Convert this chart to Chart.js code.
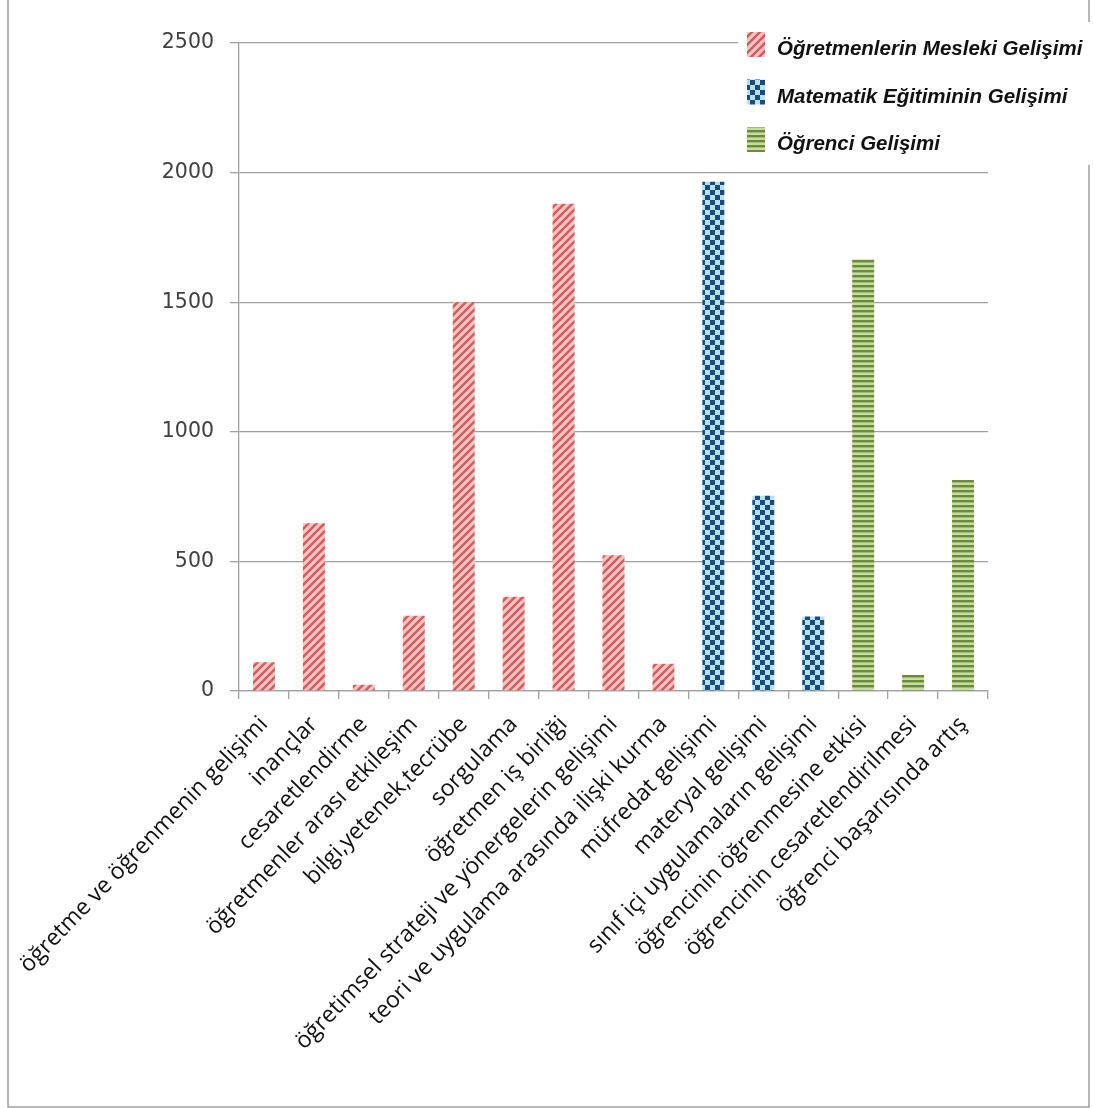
<!DOCTYPE html>
<html><head><meta charset="utf-8">
<script src="https://cdn.jsdelivr.net/npm/chart.js@4.4.0/dist/chart.umd.min.js"></script>
<style>html,body{margin:0;padding:0;background:#fff;overflow:hidden}#wrap{width:1093px;height:1108px;position:relative}</style>
</head><body><div id="wrap"><canvas id="c" width="1093" height="1108"></canvas></div>
<script>
const categories = [
  "öğretme ve öğrenmenin gelişimi",
  "inançlar",
  "cesaretlendirme",
  "öğretmenler arası etkileşim",
  "bilgi,yetenek,tecrübe",
  "sorgulama",
  "öğretmen iş birliği",
  "öğretimsel strateji ve yönergelerin gelişimi",
  "teori ve uygulama arasında ilişki kurma",
  "müfredat gelişimi",
  "materyal gelişimi",
  "sınıf içi uygulamaların gelişimi",
  "öğrencinin öğrenmesine etkisi",
  "öğrencinin cesaretlendirilmesi",
  "öğrenci başarısında artış"
];
const seriesLabels = ["Öğretmenlerin Mesleki Gelişimi", "Matematik Eğitiminin Gelişimi", "Öğrenci Gelişimi"];
const teacherValues = [111, 647, 24, 290, 1500, 364, 1880, 524, 105, null, null, null, null, null, null];
const mathValues    = [null, null, null, null, null, null, null, null, null, 1965, 753, 287, null, null, null];
const studentValues = [null, null, null, null, null, null, null, null, null, null, null, null, 1665, 62, 814];
const yTickValues = [0, 500, 1000, 1500, 2000, 2500];

function makeTile(w, h, draw) {
  const c = document.createElement('canvas'); c.width = w; c.height = h;
  const g = c.getContext('2d'); draw(g, w, h);
  return c;
}
const stripeTile = makeTile(8, 8, (g) => {
  g.fillStyle = '#f5c3c3'; g.fillRect(0, 0, 8, 8);
  g.strokeStyle = '#d55a5a'; g.lineWidth = 2.4; g.lineCap = 'square';
  g.beginPath();
  g.moveTo(-1, 9); g.lineTo(9, -1);
  g.moveTo(-1, 1); g.lineTo(1, -1);
  g.moveTo(7, 9); g.lineTo(9, 7);
  g.stroke();
});
const checkTile = makeTile(10, 10, (g) => {
  g.fillStyle = '#b3e2f2'; g.fillRect(0, 0, 10, 10);
  g.fillStyle = '#1f4a78'; g.fillRect(0, 0, 5, 5); g.fillRect(5, 5, 5, 5);
});
const hstripeTile = makeTile(4, 5, (g) => {
  g.fillStyle = '#c7dca0'; g.fillRect(0, 0, 4, 5);
  g.fillStyle = '#6a8a3b'; g.fillRect(0, 0, 4, 2.4);
});
const ctx = document.getElementById('c').getContext('2d');
const pats = [ctx.createPattern(stripeTile, 'repeat'), ctx.createPattern(checkTile, 'repeat'), ctx.createPattern(hstripeTile, 'repeat')];

const framePlugin = {
  id: 'frame',
  beforeDraw(chart) {
    const g = chart.ctx; g.save();
    g.fillStyle = '#fff'; g.fillRect(0, 0, chart.width, chart.height);
    g.strokeStyle = '#a0a0a0'; g.lineWidth = 1.5;
    g.beginPath();
    g.moveTo(8, 0); g.lineTo(8, 1107); g.lineTo(1089, 1107); g.lineTo(1089, 0);
    g.stroke();
    g.restore();
  },
  afterDraw(chart) {
    const g = chart.ctx; g.save();
    g.fillStyle = '#fff'; g.fillRect(738, 22, 352, 143);
    chart.data.datasets.forEach((ds, i) => {
      const y0 = 32 + i * 47.5;
      g.fillStyle = ds.backgroundColor;
      g.fillRect(747, y0, 18, 25);
      g.fillStyle = '#111';
      g.font = 'italic bold 20.5px "Liberation Sans", Arial, sans-serif';
      g.textBaseline = 'alphabetic';
      g.fillText(ds.label, 777, y0 + 23);
    });
    g.restore();
  }
};

new Chart(ctx, {
  type: 'bar',
  data: {
    labels: categories,
    datasets: [
      { label: seriesLabels[0], data: teacherValues, backgroundColor: pats[0] },
      { label: seriesLabels[1], data: mathValues, backgroundColor: pats[1] },
      { label: seriesLabels[2], data: studentValues, backgroundColor: pats[2] }
    ]
  },
  options: {
    responsive: false,
    animation: false,
    devicePixelRatio: 1,
    layout: { padding: { left: 0, right: 105, top: 43, bottom: 0 } },
    datasets: { bar: { grouped: false, categoryPercentage: 1, barPercentage: 0.44 } },
    plugins: { legend: { display: false }, tooltip: { enabled: false } },
    scales: {
      x: {
        offset: true,
        grid: { drawOnChartArea: false, drawTicks: true, tickLength: 8, color: '#a0a0a0', lineWidth: 1.3 },
        border: { color: '#a0a0a0', width: 1.3 },
        ticks: {
          autoSkip: false, minRotation: 46, maxRotation: 46, padding: 12,
          color: '#111', font: { family: '"Open Sans", sans-serif', size: 23 }
        },
        afterFit(s) { s.height = 417; s.paddingLeft = 0; s.paddingRight = 0; }
      },
      y: {
        min: 0, max: 2500,
        afterBuildTicks(s) { s.ticks = yTickValues.map(v => ({ value: v })); },
        grid: { color: '#a0a0a0', lineWidth: 1.3, tickLength: 9 },
        border: { color: '#a0a0a0', width: 1.3 },
        ticks: { padding: 16, color: '#404040', callback: (v) => String(v), font: { family: '"DejaVu Sans", sans-serif', size: 20.5 } },
        afterFit(s) { s.width = 239; s.paddingTop = 0; s.paddingBottom = 0; }
      }
    }
  },
  plugins: [framePlugin]
});
</script></body></html>
